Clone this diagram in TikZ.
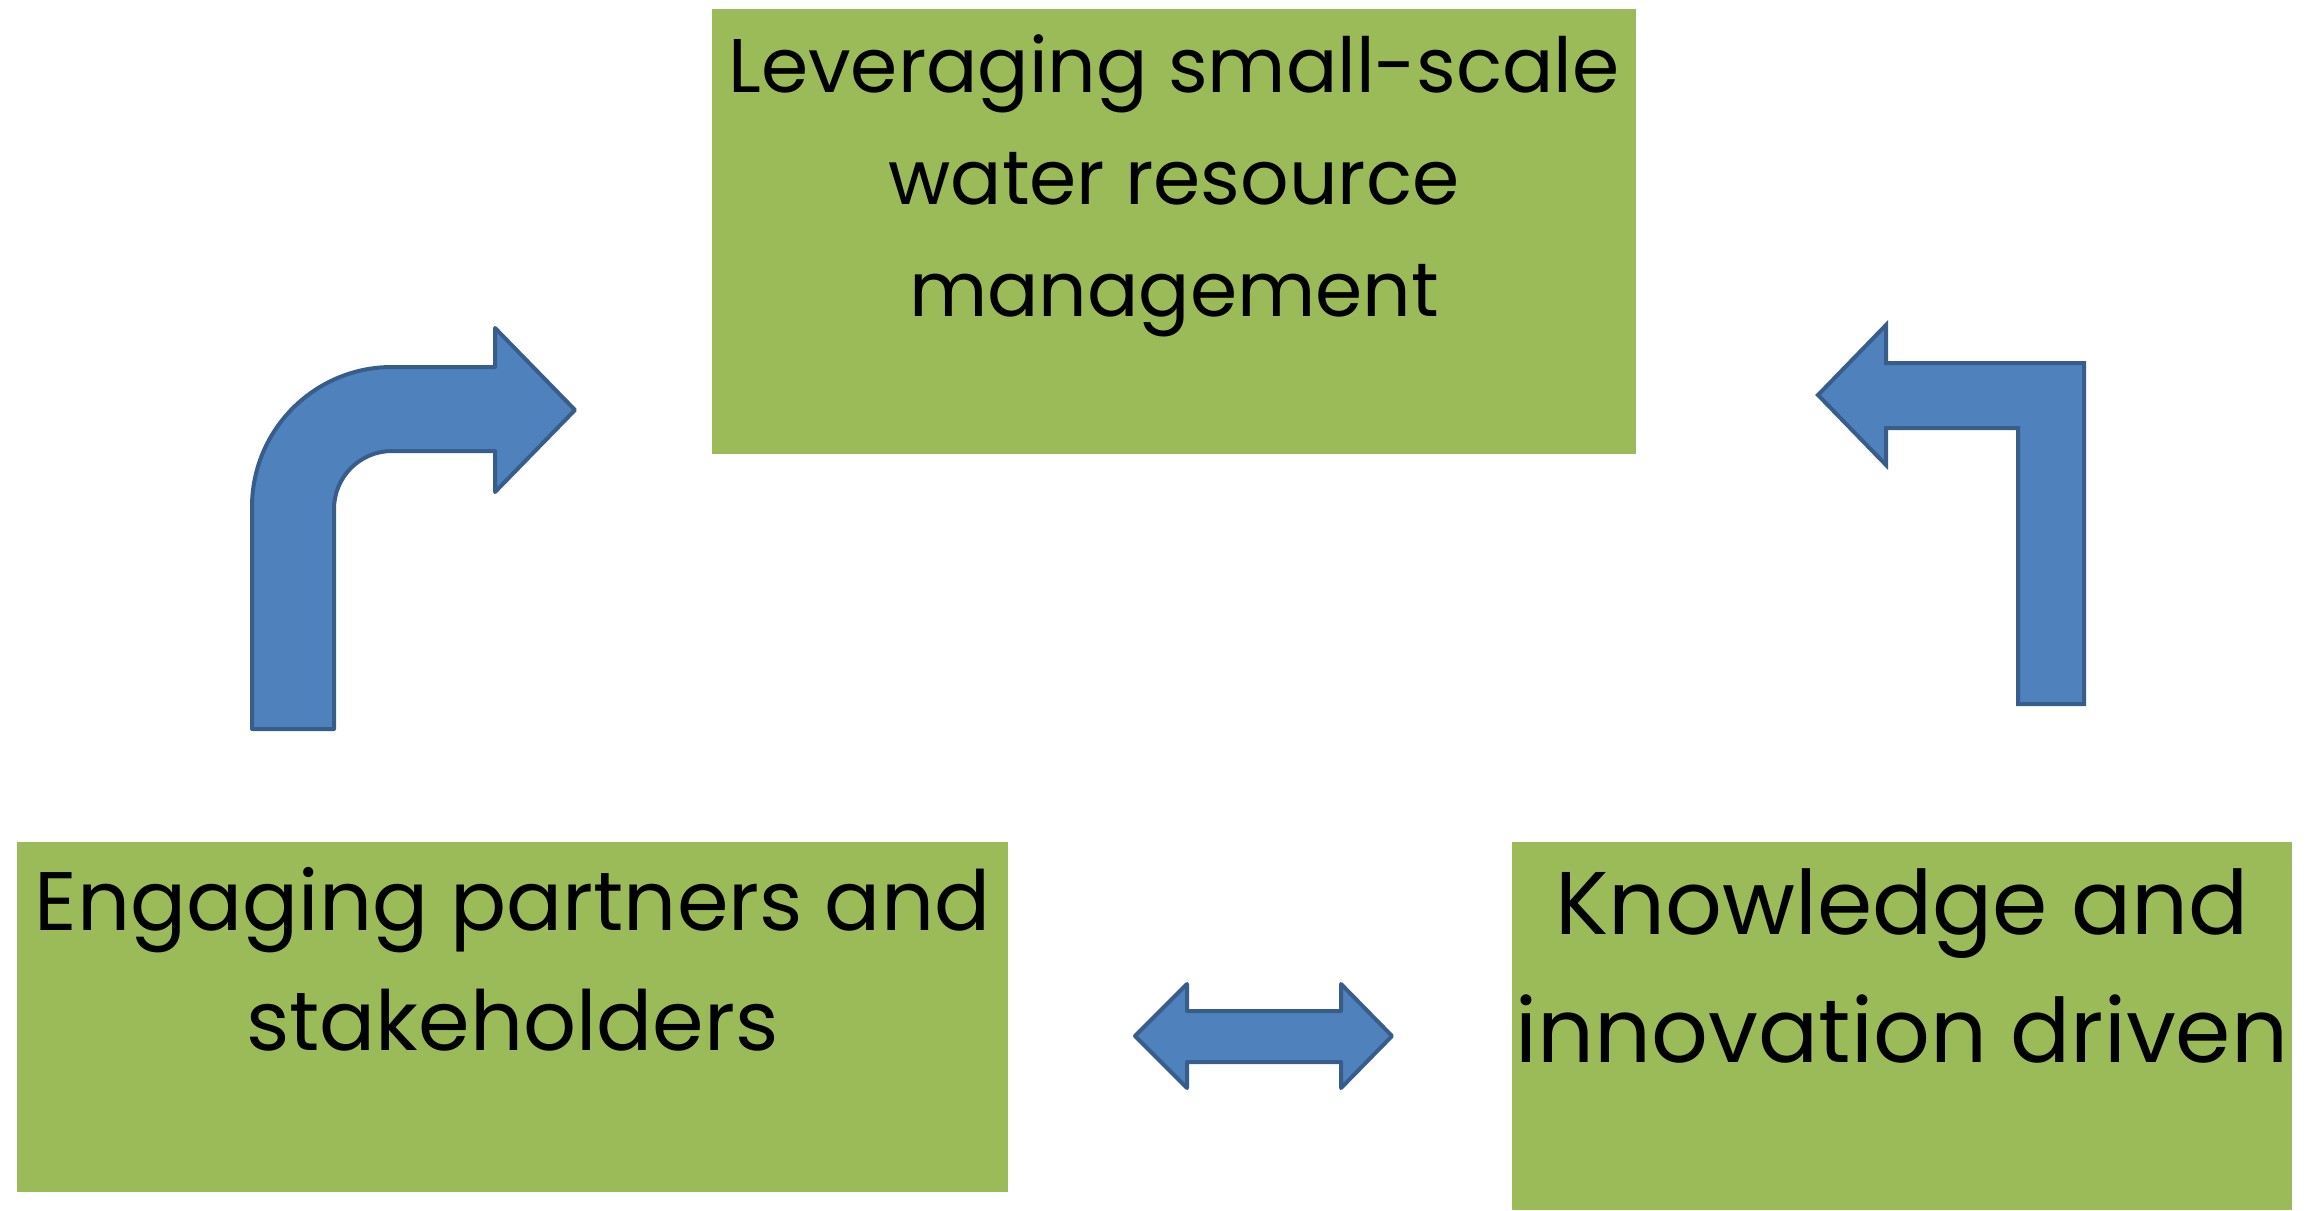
\documentclass[tikz,border=0pt]{standalone}
\usepackage{fontspec}
\setmainfont{Poppins}
\usepackage{xcolor}
\usepackage{tikz}
\usetikzlibrary{positioning}
\definecolor{box-green}{HTML}{9BBB59}
\definecolor{arrow-blue}{HTML}{4F81BD}
\definecolor{arrow-edge}{HTML}{385D8A}
\tikzset{
    greenbox/.style={fill=box-green, draw=none, inner sep=0pt},
    boxtext/.style={align=center, inner sep=0pt, anchor=base},
    blockarrow/.style={fill=arrow-blue, draw=arrow-edge, line width=2pt, line join=round}
}

\begin{document}
\begin{tikzpicture}[x=0.5pt, y=-0.5pt]
    \useasboundingbox (0,0) rectangle (2305,1210);

    % Green boxes
    \node[greenbox, minimum width=462pt, minimum height=222.5pt] (water) at (1174,231.5) {};
    \node[greenbox, minimum width=495.5pt, minimum height=175pt] (partners) at (512.5,1017) {};
    \node[greenbox, minimum width=390pt, minimum height=184pt] (knowledge) at (1902,1026) {};

    % Box texts (anchored on the last line)
    \node[boxtext, font=\fontsize{38}{56}\selectfont] (watertext) at ([yshift=-154pt]water.north)
        {Leveraging small-scale\\water resource\\management};
    \node[boxtext, font=\fontsize{41.5}{60}\selectfont] (partnerstext) at ([yshift=-104.5pt]partners.north)
        {Engaging partners and\\stakeholders};
    \node[boxtext, font=\fontsize{44.5}{64}\selectfont] (knowledgetext) at ([yshift=-110.5pt]knowledge.north)
        {Knowledge and\\innovation driven};

    % Bent arrow up to the top box
    \draw[blockarrow] (252,729) -- (252,507) arc[start angle=180, end angle=270, radius=140]
        -- (495,367) -- (495,328) -- (575,410) -- (495,492) -- (495,451) -- (392,451)
        arc[start angle=270, end angle=180, radius=58] -- (334,729) -- cycle;

    % Bent arrow from the right box
    \draw[blockarrow, line join=miter] (2084,704) -- (2084,363) -- (1886,363) -- (1886,325)
        -- (1818,395) -- (1886,465) -- (1886,428) -- (2018,428) -- (2018,704) -- cycle;

    % Double arrow between the bottom boxes
    \draw[blockarrow] (1135,1036) -- (1187,984) -- (1187,1011) -- (1341,1011) -- (1341,984)
        -- (1392,1036) -- (1341,1088) -- (1341,1062) -- (1187,1062) -- (1187,1088) -- cycle;
\end{tikzpicture}
\end{document}
